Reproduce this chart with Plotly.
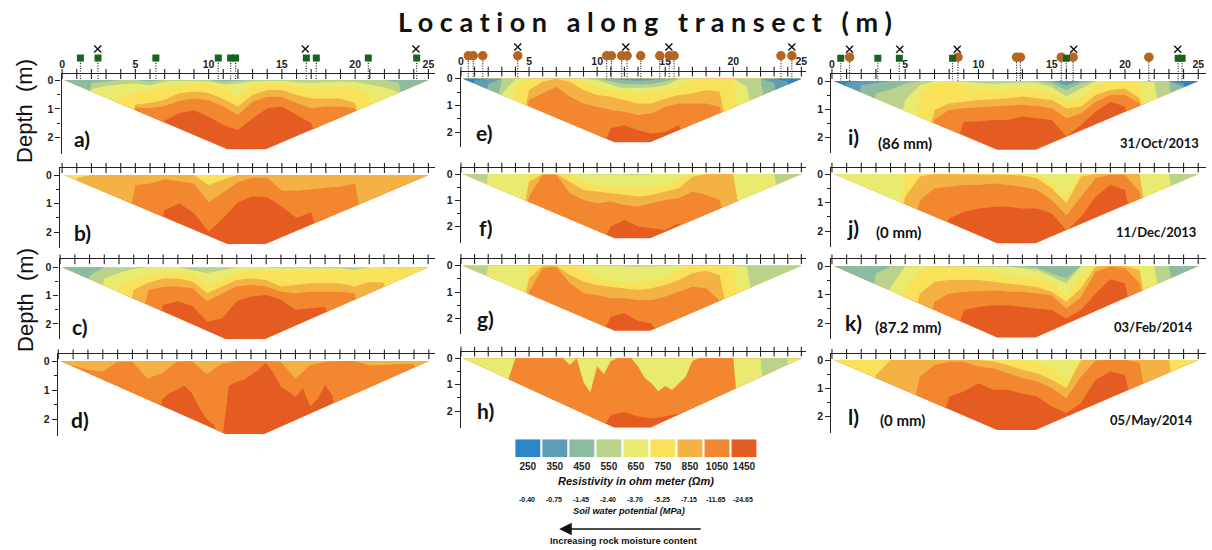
import plotly.graph_objects as go

W, H = 1212, 550
STATIONS = [i for i in range(26)]
HALF_STATIONS = [i * 0.5 for i in range(51)]
CLASSES = [250, 350, 450, 550, 650, 750, 850, 1050, 1450]
CLASS_COLORS = ["#2b85c6", "#5f9cb6", "#8dbb9f", "#b9d38c", "#e8eb70", "#f9e259", "#f4b244", "#f2872f", "#e55c22"]
POTENTIALS = ["-0.40", "-0.75", "-1.45", "-2.40", "-3.70", "-5.25", "-7.15", "-11.65", "-24.65"]
X_TICK_LABELS = [0, 5, 10, 15, 20, 25]
DEPTH_TICKS = [0, 1, 2]

# Depth (m) at which each resistivity class ends, per metre along the transect. 3 = reaches the base of the section.
A_1050 = [3,3,3,3,3,3,3,1.4,1.15,1.05,1.27,1.56,1.73,1.33,.98,.92,1.2,1.5,3,3,3,3,3,3,3,3]
A_850 = [3,3,3,3,3,.95,.98,.9,.72,.64,.7,.92,1.2,.75,.58,.58,.8,.98,.92,.92,.98,3,3,3,3,3]
A_750 = [3,3,3,3,3,.85,.8,.68,.46,.4,.45,.66,.92,.52,.35,.35,.52,.64,.64,.64,.8,3,3,3,3,3]
A_650 = [3,3,3,3,.55,.45,.32,.25,.18,.12,.15,.25,.55,.2,.12,.12,.2,.3,.3,.25,.3,.5,3,3,3,3]
A_550 = [3,3,.32,.2,.15,.12,.18,.05,.03,.03,.05,.15,.12,.05,.03,.03,.08,.1,.08,.05,.07,.15,.25,.42,3,3]
A_450 = [3,3,.1,.05,0,0,.05,0,0,0,0,.06,.03,0,0,0,0,0,0,0,0,0,0,.1,3,3]

B_1050 = [3,3,3,3,3,3,3,1.22,1.0,1.33,1.98,1.5,.95,.75,.78,1.1,1.5,1.3,3,3,3,3,3,3,3,3]
B_850 = [3,3,3,3,3,.35,.3,.15,.22,.3,.95,.6,.25,.1,.1,.55,.55,.5,.45,.4,.3,3,3,3,3,3]
B_750 = [3,.1,0,0,0,0,0,0,0,0,.35,.15,0,0,0,0,0,0,0,0,0,0,0,0,0,0]

C_1050 = [3,3,3,3,3,3,3,1.33,1.2,1.38,1.92,1.8,1.2,1.03,.98,1.15,1.5,1.45,1.4,3,3,3,3,3,3,3]
C_850 = [3,3,3,3,3,3,.8,.7,.68,.75,1.2,.92,.68,.62,.68,.86,.92,.86,.86,.86,.92,3,3,3,3,3]
C_750 = [3,3,3,3,3,.8,.55,.4,.4,.5,.92,.68,.45,.4,.45,.68,.62,.56,.56,.56,.68,.52,.55,3,3,3]
C_650 = [3,3,3,3,.62,.4,.3,.2,.2,.2,.65,.45,.2,.12,.12,.12,.1,.1,.1,.1,.15,.05,0,0,0,0]
C_550 = [3,3,3,.4,.2,.05,0,0,0,.1,.2,.1,0,0,0,.03,.03,.03,.03,.03,.1,0,0,0,0,0]
C_450 = [3,3,.3,0,0,0,0,0,0,0,0,0,0,0,0,0,0,0,0,0,0,0,0,0,0,0]

# half-metre stations
D_1050 = [3,3,3,3,3,3,3,3,3,3,3,3,3,3,1.34,1.1,1.0,.85,1.1,1.6,2.0,2.2,3,.85,.72,.65,.48,.3,.06,.4,.88,1.05,1.23,.95,1.57,1.3,.83,1.2,3,3,3,3,3,3,3,3,3,3,3,3,3]
D_850 = [3,.15,.3,.36,.03,.03,.6,.42,.03,0,.45,.1,0,0,0,.03,.6,.14,.03,0,0,.15,.14,.1,.1,3]

E_1050 = [3,3,3,3,3,3,3,3,3,3,3,1.86,1.74,1.93,2.05,2.0,1.74,3,3,3,3,3,3,3,3,3]
E_850 = [3,3,3,3,3,.8,.55,.3,.68,.93,1.05,1.18,1.24,1.36,1.3,1.05,.93,.93,.93,1.05,3,3,3,3,3,3]
E_750 = [3,3,3,3,3,.42,.11,0,.11,.42,.61,.68,.8,.93,.93,.74,.61,.55,.42,.49,3,3,3,3,3,3]
E_650 = [3,3,3,3,.3,0,0,0,0,.1,.3,.42,.5,.55,.5,.42,.3,.05,0,0,0,3,3,3,3,3]
E_550 = [3,3,3,.6,0,0,0,0,0,0,.05,.24,.36,.36,.33,.25,.02,0,0,0,0,.3,3,3,3,3]
E_450 = [3,3,3,0,0,0,0,0,0,0,0,.1,.2,.22,.2,.1,0,0,0,0,0,0,0,3,3,3]
E_350 = [3,3,.2,0,0,0,0,0,0,0,0,0,.05,.08,.05,0,0,0,0,0,0,0,0,.15,3,3]
E_250 = [3,.05,0,0,0,0,0,0,0,0,0,0,0,0,0,0,0,0,0,0,0,0,0,0,.1,3]

F_1050 = [3,3,3,3,3,3,3,3,3,3,3,2.0,1.75,2.0,2.06,2.13,1.87,3,3,3,3,3,3,3,3,3]
F_850 = [3,3,3,3,3,.86,.03,.03,.73,.99,1.11,1.05,1.18,1.24,1.11,.99,.92,.67,.8,.99,3,3,3,3,3,3]
F_750 = [3,3,3,3,3,.29,0,0,.29,.6,.67,.73,.8,.86,.8,.67,.54,.1,0,0,0,3,3,3,3,3]
F_650 = [3,3,3,3,3,0,0,0,0,.29,.42,.54,.55,.48,.5,.42,.23,0,0,0,0,3,3,3,3,3]
F_550 = [3,3,0,0,0,0,0,0,0,0,0,0,.02,.05,0,0,0,0,0,0,0,0,0,0,3,3]

G_1050 = [3,3,3,3,3,3,3,3,3,3,3,1.94,1.81,2.09,2.2,3,3,3,3,3,3,3,3,3,3,3]
G_850 = [3,3,3,3,3,.99,.1,.04,.67,1.05,1.11,1.24,1.24,1.3,1.3,1.18,.99,.8,.86,1.3,3,3,3,3,3,3]
G_750 = [3,3,3,3,3,.48,0,0,.35,.6,.73,.8,.86,.92,.86,.73,.54,.29,.19,.35,3,3,3,3,3,3]
G_650 = [3,3,3,3,3,0,0,0,0,.1,.48,.54,.67,.6,.55,.48,.16,0,0,0,.1,3,3,3,3,3]
G_550 = [3,3,0,0,0,0,0,0,0,0,0,0,.03,.05,.03,0,0,0,0,0,0,.05,3,3,3,3]

H_1050 = [3,3,3,3,3,3,3,3,3,3,3,2.15,2.03,2.2,2.28,2.2,2.09,3,3,3,3,3,3,3,3,3]
# half-metre stations
H_650 = [3,3,3,3,3,3,3,.76,0,0,0,0,0,0,0,0,.25,0,.9,1.3,.3,.6,.1,0,0,0,.3,.75,.95,1.25,1.05,1.2,.95,.7,.1,0,0,0,0,0,0,3,3,3,3,3,3,3,3,3,3]
H_550 = [0,0,0,0,0,0,0,0,0,0,0,0,0,0,0,0,0,0,0,0,0,0,0,0,0,0,0,0,0,0,0,0,0,0,0,0,0,0,0,0,0,0,0,0,0,3,3,3,0,0,0]

I_1050 = [3,3,3,3,3,3,3,3,3,1.43,1.43,1.37,1.37,1.25,1.31,1.37,1.95,1.55,1.08,.73,.9,3,3,3,3,3]
I_850 = [3,3,3,3,3,3,3,1.35,1.02,.96,.93,.9,.88,.84,.88,.96,1.31,1.14,.73,.49,.49,.79,3,3,3,3]
I_750 = [3,3,3,3,3,3,3,1.02,.79,.73,.67,.64,.61,.55,.61,.67,.96,.9,.49,.32,.26,.61,3,3,3,3]
I_650 = [3,3,3,3,3,3,.49,.08,.08,.14,.32,.34,.32,.26,.32,.43,.73,.61,.14,0,0,0,3,3,3,3]
I_550 = [3,3,3,3,3,.67,.14,0,0,.02,.08,.1,.08,.05,.06,.22,.55,.26,0,0,0,0,.05,3,3,3]
I_450 = [3,3,3,.43,.3,.1,0,0,0,0,0,0,0,0,0,.08,.32,.08,0,0,0,0,0,0,3,3]
I_350 = [3,3,.14,.06,0,0,0,0,0,0,0,0,0,0,0,0,.14,0,0,0,0,0,0,0,.2,3]
I_250 = [3,.05,0,0,0,0,0,0,0,0,0,0,0,0,0,0,0,0,0,0,0,0,0,0,.07,3]

J_1050 = [3,3,3,3,3,3,3,3,1.56,1.33,1.21,1.15,1.15,1.21,1.21,1.39,2.0,1.5,.8,.39,.56,3,3,3,3,3]
J_850 = [3,3,3,3,3,3,.92,.5,.45,.39,.39,.33,.39,.45,.56,.92,1.45,.8,.15,.03,.03,.62,3,3,3,3]
J_750 = [3,3,3,3,3,.8,.09,0,0,0,.02,.02,.03,.05,.15,.5,1.03,.09,0,0,0,0,3,3,3,3]
J_650 = [3,3,3,3,3,0,0,0,0,0,0,0,0,0,.03,.27,.8,0,0,0,0,0,3,3,3,3]
J_550 = [0,0,0,0,0,0,0,0,0,0,0,0,0,0,0,0,0,0,0,0,0,0,0,0,3,3]

K_1050 = [3,3,3,3,3,3,3,3,3,1.54,1.43,1.37,1.37,1.43,1.49,1.54,1.84,1.54,.96,.46,.6,3,3,3,3,3]
K_850 = [3,3,3,3,3,3,3,1.25,.96,.9,.87,.84,.9,.9,.96,1.02,1.49,1.08,.2,.02,.08,.6,3,3,3,3]
K_750 = [3,3,3,3,3,3,.96,.55,.49,.49,.49,.55,.6,.67,.73,.9,1.25,.78,.02,0,0,.14,3,3,3,3]
K_650 = [3,3,3,3,3,.73,.14,0,0,.02,.14,.2,.37,.43,.43,.6,1.08,.37,0,0,0,0,3,3,3,3]
K_550 = [3,3,3,3,.73,.02,0,0,0,0,0,0,.02,.08,.14,.37,.6,0,0,0,0,0,0,3,3,3]
K_450 = [3,3,3,.26,.02,0,0,0,0,0,0,0,0,.02,.06,.26,.43,0,0,0,0,0,0,0,3,3]

L_1050 = [3,3,3,3,3,3,3,3,1.3,1.11,.82,1.05,1.05,1.19,1.29,1.64,1.87,1.52,.7,.41,.53,3,3,3,3,3]
L_850 = [3,3,3,3,3,3,.58,.18,.06,.06,.23,.29,.47,.64,.76,.99,1.35,.58,.02,0,0,.1,3,3,3,3]
L_750 = [3,3,3,.53,0,0,0,0,0,0,0,.05,.18,.35,.47,.7,.99,0,0,0,0,0,0,0,3,3]
L_650 = [0,0,0,0,0,0,0,0,0,0,0,0,0,0,.1,.3,.76,0,0,0,0,0,0,0,0,0]

PANEL_BANDS = {
    "a": {1050: A_1050, 850: A_850, 750: A_750, 650: A_650, 550: A_550, 450: A_450},
    "b": {1050: B_1050, 850: B_850, 750: B_750},
    "c": {1050: C_1050, 850: C_850, 750: C_750, 650: C_650, 550: C_550, 450: C_450},
    "d": {1050: D_1050, 850: D_850},
    "e": {1050: E_1050, 850: E_850, 750: E_750, 650: E_650, 550: E_550, 450: E_450, 350: E_350, 250: E_250},
    "f": {1050: F_1050, 850: F_850, 750: F_750, 650: F_650, 550: F_550},
    "g": {1050: G_1050, 850: G_850, 750: G_750, 650: G_650, 550: G_550},
    "h": {1050: H_1050, 650: H_650, 550: H_550},
    "i": {1050: I_1050, 850: I_850, 750: I_750, 650: I_650, 550: I_550, 450: I_450, 350: I_350, 250: I_250},
    "j": {1050: J_1050, 850: J_850, 750: J_750, 650: J_650, 550: J_550},
    "k": {1050: K_1050, 850: K_850, 750: K_750, 650: K_650, 550: K_550, 450: K_450},
    "l": {1050: L_1050, 850: L_850, 750: L_750, 650: L_650},
}

# Sampling locations (m) marked above the first row of sections
A_SQUARES = [1.25, 2.45, 6.4, 10.66, 11.5, 11.84, 16.67, 17.35, 20.9, 24.2]
A_CROSSES = [2.43, 16.6, 24.15]
E_CIRCLES = [0.54, 0.9, 1.6, 4.17, 10.7, 11.05, 11.8, 12.2, 13.2, 14.6, 15.3, 15.65, 23.5, 24.3]
E_CROSSES = [4.17, 12.1, 15.27, 24.3]
I_SQUARES = [0.6, 3.13, 4.6, 8.23, 16.0, 23.63, 23.9]
I_CIRCLES = [1.2, 8.6, 12.6, 12.86, 15.65, 16.46, 21.63]
I_CROSSES = [1.2, 4.63, 8.55, 16.5, 23.6]

# pixel layout of each panel: x of axis, x of 0 m, px per m, x of axis end, y axis top, y of 0 m, px per m depth, y axis end, section base (m)
GEOM = {
    "a": (58.7, 59.3, 14.7, 433, 74, 80, 28.9, 154, 2.40),
    "b": (57.3, 59.3, 14.7, 433, 168, 175, 28.6, 248, 2.41),
    "c": (56.7, 57.3, 14.77, 433, 259.3, 267.3, 28.3, 339.3, 2.54),
    "d": (55, 55.5, 14.87, 433, 354.3, 361, 29, 436, 2.52),
    "e": (459.3, 459.5, 13.66, 806, 71.7, 78.7, 26.7, 147, 2.38),
    "f": (459.3, 459.5, 13.66, 806, 167.7, 174, 26.3, 242.7, 2.44),
    "g": (459.3, 459.5, 13.66, 806, 259, 265.7, 26.3, 334, 2.47),
    "h": (459.3, 459.5, 13.66, 806, 351.7, 358.3, 26.4, 427.7, 2.63),
    "i": (831, 831.7, 14.7, 1207, 74, 81, 28.4, 153.3, 2.42),
    "j": (831, 831.7, 14.7, 1207, 167.7, 174, 28.5, 247.3, 2.43),
    "k": (831, 831.7, 14.7, 1207, 259.3, 266, 28.6, 339.3, 2.50),
    "l": (831, 831.7, 14.7, 1207, 354, 360, 28.3, 433.3, 2.47),
}
EDGE_LEFT, FLAT_LEFT, FLAT_RIGHT, EDGE_RIGHT = 0.15, 11.27, 13.9, 25.0

LABEL_POS = {"a": (79, 138), "b": (80, 232), "c": (77, 326), "d": (77, 419), "e": (483, 132), "f": (484, 227),
             "g": (484, 318), "h": (484, 410), "i": (853, 137), "j": (853, 227), "k": (853, 322), "l": (853, 416)}
NOTES = [("(86 mm)", 905, 143, 15), ("31/Oct/2013", 1160, 143, 13), ("(0 mm)", 898, 232, 15), ("11/Dec/2013", 1157, 232, 13),
         ("(87.2 mm)", 908, 327, 15), ("03/Feb/2014", 1154, 327, 13), ("(0 mm)", 902, 420, 15), ("05/May/2014", 1152, 420, 13)]

COLOR = dict(zip(CLASSES, CLASS_COLORS))
fig = go.Figure()
layout = {}
annots = []


def ann(text, x, y, size, family="Liberation Sans", color="#111", angle=0):
    annots.append(dict(text=text, x=x / W, y=1 - y / H, xref="paper", yref="paper", showarrow=False,
                       xanchor="center", yanchor="middle", textangle=angle,
                       font=dict(size=size, family=family, color=color)))


def section_floor(x, base):
    """Base of the trapezoidal section at position x."""
    if x <= EDGE_LEFT or x >= EDGE_RIGHT:
        return 0.0
    if x < FLAT_LEFT:
        return base * (x - EDGE_LEFT) / (FLAT_LEFT - EDGE_LEFT)
    if x > FLAT_RIGHT:
        return base * (EDGE_RIGHT - x) / (EDGE_RIGHT - FLAT_RIGHT)
    return base


def clipped_profile(xs, depth, base):
    """Lower envelope of a class boundary and the section floor, as polygon vertices."""
    def d_at(x):
        for j in range(len(xs) - 1):
            if xs[j] <= x <= xs[j + 1]:
                return depth[j] + (depth[j + 1] - depth[j]) * (x - xs[j]) / (xs[j + 1] - xs[j])
        return 0.0
    breaks = sorted(set(list(xs) + [EDGE_LEFT, FLAT_LEFT, FLAT_RIGHT, EDGE_RIGHT]))
    out_x, out_y = [], []
    for j, x in enumerate(breaks):
        d, f = d_at(x), section_floor(x, base)
        out_x.append(x)
        out_y.append(min(d, f))
        if j + 1 < len(breaks):
            nx = breaks[j + 1]
            a, b = d - f, d_at(nx) - section_floor(nx, base)
            if a * b < 0:
                cx = x + (nx - x) * a / (a - b)
                out_x.append(cx)
                out_y.append(section_floor(cx, base))
    return out_x + [out_x[-1], out_x[0]], out_y + [0, 0]


for n, (name, bands) in enumerate(PANEL_BANDS.items(), start=1):
    xl, x0, ppx, xr, yt, y0, ppy, yb, base = GEOM[name]
    xa, ya = f"x{n}", f"y{n}"
    kw = dict(xaxis=xa, yaxis=ya, hoverinfo="skip", showlegend=False)
    # deepest class: whole section
    fig.add_trace(go.Scatter(x=[EDGE_LEFT, FLAT_LEFT, FLAT_RIGHT, EDGE_RIGHT], y=[0, base, base, 0], mode="lines",
                             fill="toself", fillcolor=COLOR[1450], line=dict(width=0), **kw))
    for cls in sorted(bands, reverse=True):
        depth = bands[cls]
        xs = STATIONS if len(depth) == len(STATIONS) else HALF_STATIONS
        assert len(depth) == len(xs), (name, cls, len(depth))
        px, py = clipped_profile(xs, depth, base)
        fig.add_trace(go.Scatter(x=px, y=py, mode="lines", fill="toself", fillcolor=COLOR[cls], line=dict(width=0), **kw))
    top_depth = (yt - y0) / ppy
    # axis ticks crossing the top line
    fig.add_trace(go.Scatter(x=STATIONS, y=[top_depth] * len(STATIONS), mode="markers", cliponaxis=False,
                             marker=dict(symbol="line-ns", size=7, line=dict(width=1.1, color="#222")), **kw))
    layout[f"xaxis{n}"] = dict(domain=[xl / W, xr / W], range=[(xl - x0) / ppx, (xr - x0) / ppx], anchor=ya, side="top",
                               showline=True, linecolor="#222", linewidth=1.2, showgrid=False, zeroline=False,
                               tickvals=X_TICK_LABELS, ticks="", ticklabelstandoff=1,
                               showticklabels=name in "aei",
                               tickfont=dict(size=10.5, family="Liberation Sans", color="#222", weight="bold"))
    layout[f"yaxis{n}"] = dict(domain=[1 - yb / H, 1 - yt / H], range=[(yb - y0) / ppy, top_depth], anchor=xa, side="left",
                               showline=True, linecolor="#222", linewidth=1.2, showgrid=False, zeroline=False,
                               tickvals=DEPTH_TICKS, ticks="outside", ticklen=5, tickcolor="#222",
                               minor=dict(tickvals=[0.5, 1.5], ticks="outside", ticklen=3, tickcolor="#222"),
                               tickfont=dict(size=10.5, family="Liberation Sans", color="#222", weight="bold"))
    lx, ly = LABEL_POS[name]
    ann(f"<b>{name})</b>", lx, ly, 21, "Lato")


def add_markers(axis_no, panel, squares, circles, crosses, y_sq, y_ci, y_x):
    """Marker strip: invisible axes sharing the panel's metre scale, running from above the plot down to 0 m."""
    xl, x0, ppx, xr, yt, y0, ppy, yb, base = GEOM[panel]
    strip_top = 40
    layout[f"xaxis{axis_no}"] = dict(domain=[xl / W, xr / W], range=[(xl - x0) / ppx, (xr - x0) / ppx], anchor=f"y{axis_no}", visible=False)
    layout[f"yaxis{axis_no}"] = dict(domain=[1 - y0 / H, 1 - strip_top / H], range=[0, (strip_top - y0) / ppy], anchor=f"x{axis_no}", visible=False)
    kw = dict(xaxis=f"x{axis_no}", yaxis=f"y{axis_no}", hoverinfo="skip", showlegend=False)
    lx, ly = [], []
    for v, y in [(s, y_sq) for s in squares] + [(c, y_ci) for c in circles]:
        lx += [v, v, None]
        ly += [y, 0, None]
    fig.add_trace(go.Scatter(x=lx, y=ly, mode="lines", line=dict(color="#222", width=1.2, dash="1px,1.5px"), **kw))
    if circles:
        fig.add_trace(go.Scatter(x=circles, y=[y_ci] * len(circles), mode="markers",
                                 marker=dict(symbol="circle", size=9.5, color="#b5651f"), **kw))
    if squares:
        fig.add_trace(go.Scatter(x=squares, y=[y_sq] * len(squares), mode="markers",
                                 marker=dict(symbol="square", size=7, color="#15661c"), **kw))
    fig.add_trace(go.Scatter(x=crosses, y=[y_x] * len(crosses), mode="markers",
                             marker=dict(symbol="x-thin", size=7, line=dict(width=1.4, color="#111")), **kw))


add_markers(14, "a", A_SQUARES, [], A_CROSSES, -0.76, -0.8, -1.07)
add_markers(15, "e", [], E_CIRCLES, E_CROSSES, -0.86, -0.86, -1.19)
add_markers(16, "i", I_SQUARES, I_CIRCLES, I_CROSSES, -0.8, -0.84, -1.12)

# colour legend
fig.add_trace(go.Bar(x=[str(c) for c in CLASSES], y=[1] * len(CLASSES), marker=dict(color=CLASS_COLORS, line=dict(width=0)),
                     xaxis="x13", yaxis="y13", hoverinfo="skip", showlegend=False, width=0.92))
LEG_L, LEG_R = 513, 757
layout["xaxis13"] = dict(domain=[LEG_L / W, LEG_R / W], anchor="y13", type="category", showgrid=False, zeroline=False,
                         showline=False, ticks="", ticklabelstandoff=2,
                         tickfont=dict(size=10, family="Liberation Sans", color="#222", weight="bold"))
layout["yaxis13"] = dict(domain=[1 - 457.3 / H, 1 - 439.3 / H], anchor="x13", range=[0, 1], visible=False)
step = (LEG_R - LEG_L) / len(POTENTIALS)
for i, p in enumerate(POTENTIALS):
    ann(f"<b>{p}</b>", LEG_L + step * (i + 0.5) - 0.5, 499, 7)
ann("<b><i>Resistivity in ohm meter (Ωm)</i></b>", 635, 481, 11)
ann("<b><i>Soil water potential (MPa)</i></b>", 628, 511, 9.2)
ann("<b>Increasing rock moisture content</b>", 623, 541, 9.3)
annots.append(dict(x=558 / W, y=1 - 529 / H, ax=143, ay=0, xref="paper", yref="paper", axref="pixel", ayref="pixel",
                   text="", showarrow=True, arrowhead=2, arrowsize=1.8, arrowwidth=1.4, arrowcolor="#111"))

ann("<b>L o c a t i o n   a l o n g   t r a n s e c t   ( m )</b>", 644, 21, 27, "Lato")
ann("Depth  (m)", 22, 111, 22, angle=-90)
ann("Depth  (m)", 22, 300, 22, angle=-90)
for t, x, y, s in NOTES:
    ann(f"<b>{t}</b>", x, y, s, "Lato")

fig.update_layout(width=W, height=H, margin=dict(l=0, r=0, t=0, b=0), paper_bgcolor="white", plot_bgcolor="rgba(0,0,0,0)",
                  annotations=annots, showlegend=False, **layout)
fig.write_html("out.html", config={"displayModeBar": False}, post_script="document.body.style.margin='0';")
